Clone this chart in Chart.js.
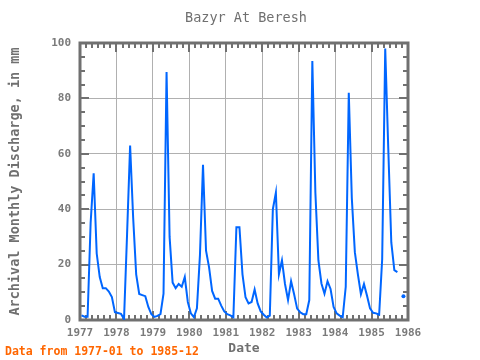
<!DOCTYPE html>
<html><head><meta charset="utf-8">
<script src="https://cdn.jsdelivr.net/npm/chart.js@4/dist/chart.umd.min.js"></script>
<style>html,body{margin:0;padding:0;background:#fff;}#wrap{width:480px;height:360px;}</style>
</head><body><div id="wrap"><canvas id="c" width="480" height="360"></canvas></div>
<script>
const chartTitle = 'Bazyr At Beresh';
const xTitle = 'Date';
const yTitle = 'Archival Monthly Discharge, in mm';
const footerText = 'Data from 1977-01 to 1985-12';
const startYear = 1977;
const yearTicks = [1977, 1978, 1979, 1980, 1981, 1982, 1983, 1984, 1985, 1986];
const valueTicks = [0, 20, 40, 60, 80, 100];

const d1977 = [1.7, 1.2, 1.2, 35, 53, 24, 15.5, 11.5, 11.5, 10.3, 8.3, 2.8];
const d1978 = [2.5, 2.2, 0.4, 31, 63, 37, 16.5, 9.4, 9, 8.6, 4.7, 2.1];
const d1979 = [1.1, 1.5, 2.1, 9.5, 89.5, 30, 13.5, 11.5, 13, 12, 15.5, 6.5];
const d1980 = [2.4, 1.0, 4.2, 23.5, 56, 25, 19, 10.5, 7.7, 7.7, 5.2, 3.1];
const d1981 = [2.1, 1.7, 1.0, 33.5, 33.5, 16.5, 8.2, 6, 6.5, 11, 6, 3.1];
const d1982 = [1.9, 0.9, 1.6, 40, 46, 16.5, 21.5, 13, 7.2, 14, 9.3, 4.1];
const d1983 = [2.8, 2.1, 2.1, 7.2, 93.5, 46, 21.5, 13.2, 9.5, 14, 11.2, 4.7];
const d1984 = [2.4, 1.6, 1.0, 12, 82, 44, 24.5, 16.5, 9.3, 13, 8.8, 4.2];
const d1985 = [2.6, 2.4, 1.9, 22, 98, 62, 28, 18, 17.3, null, 8.6, null];

const monthly = [].concat(d1977, d1978, d1979, d1980, d1981, d1982, d1983, d1984, d1985);
const points = monthly.map((v, i) => ({ x: startYear + (i + 0.5) / 12, y: v }));

const FONT = "'DejaVu Sans Mono', monospace";
const TXT = '#707070';
const TICK_TXT = '#7a7a7a';

const framePlugin = {
  id: 'frame',
  beforeDatasetsDraw(chart) {
    const { ctx, chartArea: a, scales: { x, y } } = chart;
    ctx.save();
    ctx.strokeStyle = '#707070';
    ctx.lineWidth = 2;
    ctx.beginPath();
    const nMonths = (yearTicks[yearTicks.length - 1] - yearTicks[0]) * 12;
    for (let i = 0; i <= nMonths; i += 2) {
      const px = Math.round(x.getPixelForValue(yearTicks[0] + i / 12));
      const len = i % 12 === 0 ? 9 : 5;
      ctx.moveTo(px, a.top); ctx.lineTo(px, a.top + len);
      ctx.moveTo(px, a.bottom); ctx.lineTo(px, a.bottom - len);
    }
    for (let v = 0; v <= 100; v += 5) {
      const py = Math.round(y.getPixelForValue(v));
      const len = v % 20 === 0 ? 9 : 5;
      ctx.moveTo(a.left, py); ctx.lineTo(a.left + len, py);
      ctx.moveTo(a.right, py); ctx.lineTo(a.right - len, py);
    }
    ctx.stroke();
    ctx.lineWidth = 3;
    ctx.strokeRect(a.left, a.top, a.right - a.left, a.bottom - a.top);
    ctx.restore();
  },
  afterDraw(chart) {
    const ctx = chart.ctx;
    ctx.save();
    ctx.textBaseline = 'middle';
    ctx.textAlign = 'center';
    ctx.fillStyle = TXT;
    ctx.font = "13.5px " + FONT;
    ctx.fillText(chartTitle, 246, 18);
    ctx.textAlign = 'left';
    ctx.fillStyle = '#ff6600';
    ctx.font = "bold 11.5px " + FONT;
    ctx.fillText(footerText, 5, 352);
    ctx.restore();
  }
};

new Chart(document.getElementById('c'), {
  type: 'line',
  data: {
    datasets: [{
      data: points,
      borderColor: '#0066ff',
      backgroundColor: '#0066ff',
      borderWidth: 2,
      tension: 0,
      fill: false,
      spanGaps: false,
      pointBorderWidth: 0,
      pointRadius: (c) => {
        const i = c.dataIndex;
        const v = monthly[i];
        if (v === null || v === undefined) return 0;
        const prev = i > 0 ? monthly[i - 1] : null;
        const next = i < monthly.length - 1 ? monthly[i + 1] : null;
        return (prev === null && next === null) ? 2 : 0;
      }
    }]
  },
  options: {
    responsive: false,
    animation: false,
    layout: { padding: { left: 0, right: 72, top: 43, bottom: 0 } },
    plugins: {
      legend: { display: false },
      tooltip: { enabled: false },
      title: { display: false }
    },
    scales: {
      x: {
        type: 'linear', min: yearTicks[0], max: yearTicks[yearTicks.length - 1],
        afterFit(s) { s.height = 40; },
        afterBuildTicks(s) { s.ticks = yearTicks.map(v => ({ value: v })); },
        ticks: { color: TICK_TXT, font: { family: FONT, size: 11, weight: 'bold' }, padding: 7, maxRotation: 0, autoSkip: false, callback: v => String(v) },
        grid: { color: '#b0b0b0', lineWidth: 1, drawTicks: false },
        border: { display: false },
        title: { display: true, text: xTitle, color: TXT, font: { family: FONT, size: 13, weight: 'bold' }, padding: { top: 0, bottom: 4 } }
      },
      y: {
        min: 0, max: 100,
        afterFit(s) { s.width = 80; },
        afterBuildTicks(s) { s.ticks = valueTicks.map(v => ({ value: v })); },
        ticks: { color: TICK_TXT, font: { family: FONT, size: 11, weight: 'bold' }, padding: 9 },
        grid: { color: '#b0b0b0', lineWidth: 1, drawTicks: false },
        border: { display: false },
        title: { display: true, text: yTitle, color: TXT, font: { family: FONT, size: 13.5, weight: 'bold' }, padding: { top: 7, bottom: 0 } }
      }
    }
  },
  plugins: [framePlugin]
});
</script></body></html>
